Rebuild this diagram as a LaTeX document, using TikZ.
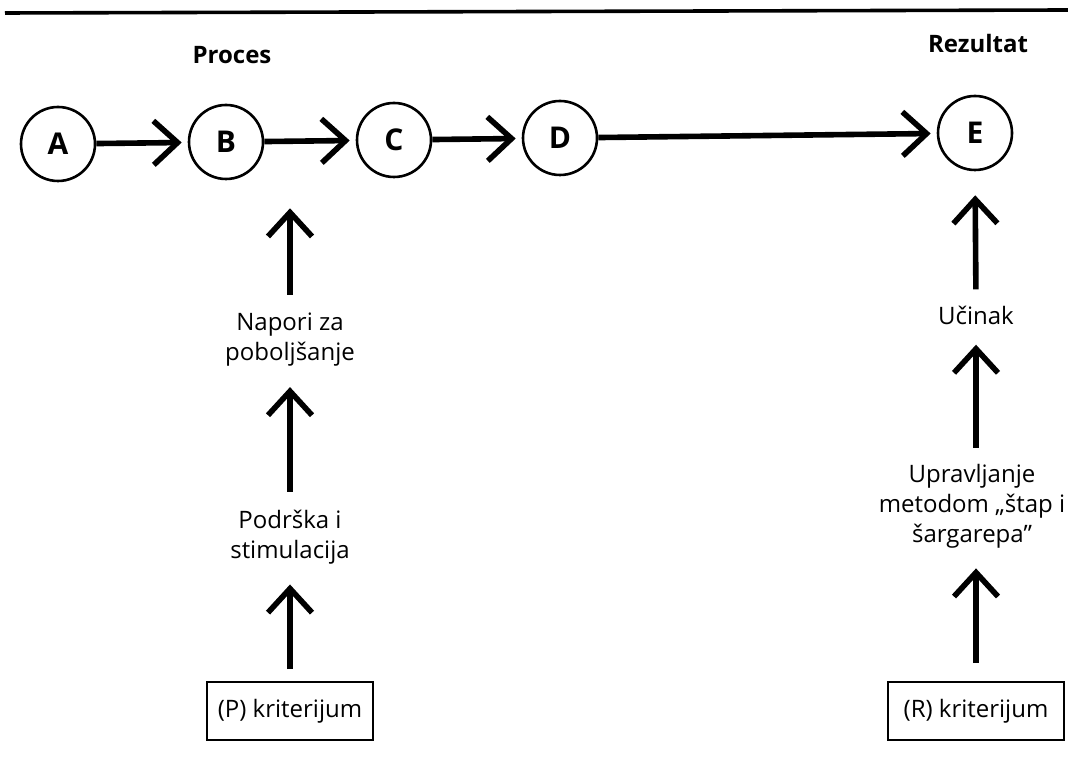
\documentclass[tikz,border=0pt]{standalone}
\usepackage{fontspec}
\setmainfont{Open Sans}
\usetikzlibrary{arrows.meta}

\begin{document}
\begin{tikzpicture}[x=0.5pt,y=-0.5pt,
  stage/.style={circle,draw,line width=1.3pt,minimum size=37pt,inner sep=0pt,font=\fontsize{15}{17}\selectfont\bfseries},
  head/.style={inner sep=0pt,font=\fontsize{12}{15}\selectfont\bfseries},
  txt/.style={align=center,inner sep=0pt,font=\fontsize{12}{15}\selectfont},
  crit/.style={draw,line width=0.8pt,inner sep=0pt,minimum height=29pt,font=\fontsize{12}{15}\selectfont},
  flow/.style={line width=2.8pt,-{Straight Barb[length=12pt,width=22pt]}}]
\useasboundingbox (0,0) rectangle (1068,769);
\draw[line width=1.8pt] (5,13)--(1068,10);

% headings
\node[head] (proces) at (232,55) {Proces};
\node[head] (rezultat) at (978,44) {Rezultat};

% chain of stages
\node[stage] (A) at (58,144) {A};
\node[stage] (B) at (226,142) {B};
\node[stage] (C) at (394,140) {C};
\node[stage] (D) at (560,138) {D};
\node[stage] (E) at (975,133) {E};
\foreach \s/\t in {A/B,B/C,C/D,D/E}
  \draw[flow,shorten >=3pt] (\s) -- (\t);

% process side
\node[txt] (napori) at (290,340) {Napori za\\poboljšanje};
\node[txt] (podrska) at (290,537) {Podrška i\\stimulacija};
\node[crit,minimum width=83pt] (pkrit) at (290,711) {(P) kriterijum};
\draw[flow,shorten <=9pt,shorten >=14pt] (napori.north) -- (napori.north |- B.south);
\draw[flow,shorten <=9pt,shorten >=10pt] (podrska.north) -- (napori.south);
\draw[flow,shorten <=6pt,shorten >=10pt] (pkrit.north) -- (podrska.south);

% result side
\node[txt] (ucinak) at (976,315) {Učinak};
\node[txt] (upravljanje) at (972,506) {Upravljanje\\metodom „štap i\\šargarepa”};
\node[crit,minimum width=88pt] (rkrit) at (976,711) {(R) kriterijum};
\draw[flow,shorten <=8pt,shorten >=12pt] (ucinak.north) -- (E.south);
\draw[flow,shorten <=8pt,shorten >=10pt] (upravljanje.north -| ucinak.south) -- (ucinak.south);
\draw[flow,shorten <=9pt,shorten >=10pt] (rkrit.north) -- (rkrit.north |- upravljanje.south);
\end{tikzpicture}
\end{document}
